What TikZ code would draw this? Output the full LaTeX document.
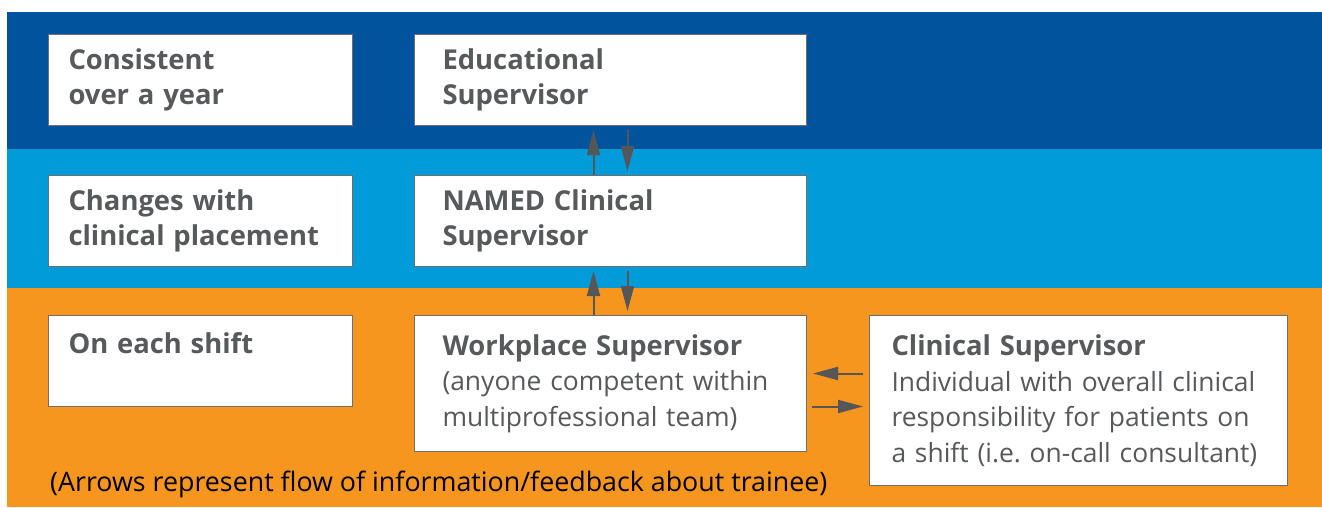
\documentclass[tikz,border=0pt]{standalone}
\usepackage{fontspec}
\setmainfont{Open Sans}
\usetikzlibrary{positioning}
\usetikzlibrary{arrows.meta}
\definecolor{darkband}{RGB}{0,83,156}
\definecolor{lightband}{RGB}{0,155,216}
\definecolor{orangeband}{RGB}{247,150,30}
\definecolor{boxgray}{RGB}{110,110,112}
\definecolor{txtgray}{RGB}{88,89,91}
\definecolor{arrowgray}{RGB}{85,86,88}
\newcommand{\hd}[1]{{\fontsize{27.4}{35.5}\selectfont\bfseries #1}}

\begin{document}
\begin{tikzpicture}[x=1pt,y=-1pt]
\tikzstyle{box}=[rectangle,anchor=north west,align=left,draw=boxgray,line width=1pt,fill=white,inner xsep=20pt,inner ysep=0pt,text=txtgray,font=\fontsize{26.4}{35.5}\selectfont]
\tikzstyle{flow}=[draw=arrowgray,line width=2pt,-{Triangle[length=25pt,width=13pt]}]
\useasboundingbox (0,0) rectangle (1322,507);
% bands
\fill[darkband] (7,12) rectangle (1322,149);
\fill[lightband] (7,149) rectangle (1322,288);
\fill[orangeband] (7,288) rectangle (1322,507);
% left column
\node[box,minimum width=304pt,minimum height=91pt,text width=264pt] at (48,34) (year) {\hd{Consistent}\\\hd{over a year}};
\node[box,minimum width=304pt,minimum height=91pt,text width=264pt] at (48,175) (placement) {\hd{Changes with}\\\hd{clinical placement}};
\node[box,minimum width=304pt,minimum height=91pt,text width=264pt] at (48,315) (shift) {\hd{On each shift}\\\mbox{}};
% supervisors
\node[box,inner xsep=28pt,minimum width=392pt,minimum height=91pt,text width=336pt] at (414,34) (edu) {\hd{Educational}\\\hd{Supervisor}};
\node[box,inner xsep=28pt,minimum width=392pt,minimum height=91pt,text width=336pt] at (414,175) (named) {\hd{NAMED Clinical}\\\hd{Supervisor}};
\node[box,inner xsep=28pt,minimum width=392pt,minimum height=136pt,text width=336pt] at (414,315) (work) {\hd{Workplace Supervisor}\\(anyone competent within\\multiprofessional team)};
\node[box,inner xsep=22pt,minimum width=418pt,minimum height=170pt,text width=374pt] at (869,315) (clin) {\hd{Clinical Supervisor}\\Individual with overall clinical\\responsibility for patients on\\a shift (i.e.\ on-call consultant)};
% flow of information
\draw[flow,shorten >=4pt] ([xshift=-17pt]named.north) -- ([xshift=-17pt]edu.south);
\draw[flow,shorten <=4pt,shorten >=4pt] ([xshift=17pt]edu.south) -- ([xshift=17pt]named.north);
\draw[flow,shorten >=4pt] ([xshift=-17pt]work.north) -- ([xshift=-17pt]named.south);
\draw[flow,shorten <=4pt,shorten >=4pt] ([xshift=17pt]named.south) -- ([xshift=17pt]work.north);
\draw[flow,shorten <=6pt,shorten >=6pt] ([yshift=27pt]clin.west) -- ([yshift=27pt]clin.west -| work.east);
\draw[flow,shorten <=5pt,shorten >=6pt] ([yshift=-6pt]clin.west -| work.east) -- ([yshift=-6pt]clin.west);
\node[anchor=base west,inner sep=0pt,font=\fontsize{26.8}{30}\selectfont,text=black] at (50,491) (note) {(Arrows represent flow of information/feedback about trainee)};
\end{tikzpicture}
\end{document}
